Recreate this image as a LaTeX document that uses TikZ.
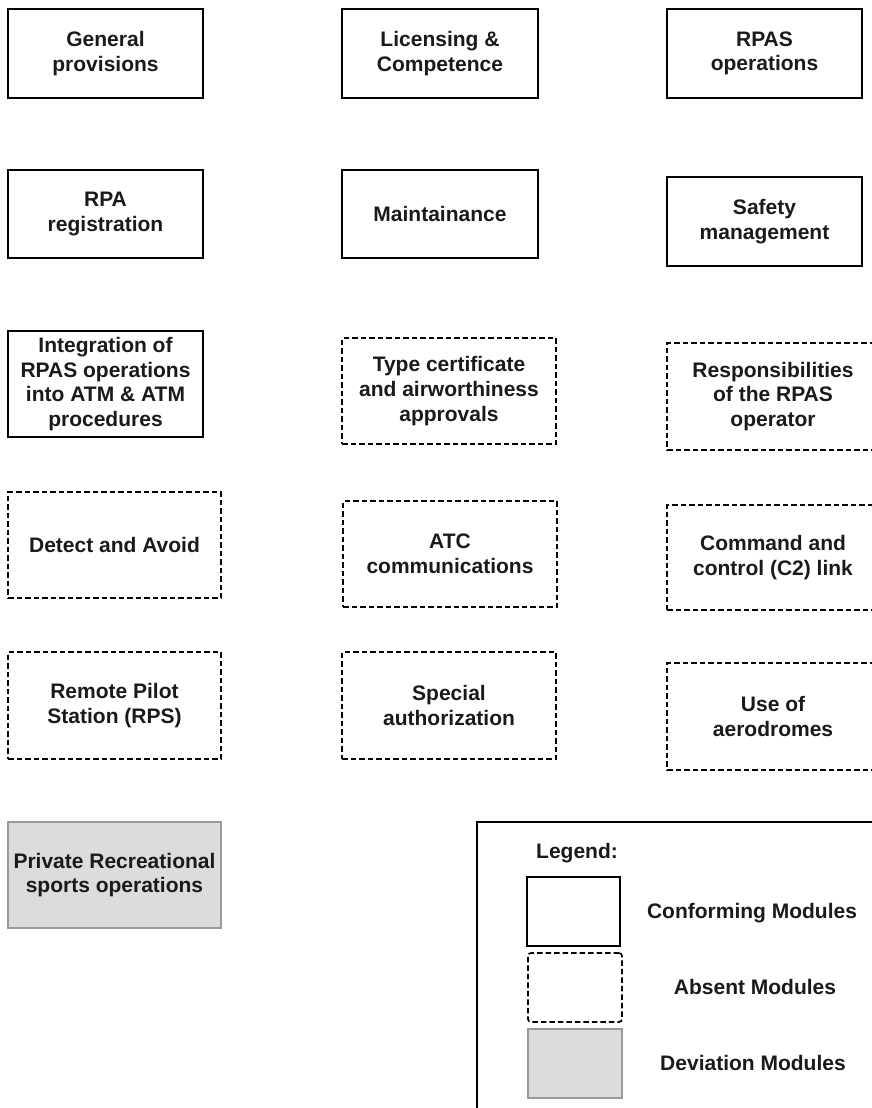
\documentclass[tikz,border=0pt]{standalone}
\usepackage{fontspec}
\setmainfont{Liberation Sans}
\definecolor{txt}{HTML}{1A1A1A}
\definecolor{devfill}{HTML}{DCDCDC}
\definecolor{devline}{HTML}{9A9A9A}
\tikzset{
  module/.style={draw=black, line width=1.7pt, align=center, inner sep=0pt,
    text=txt, font=\bfseries\fontsize{21}{24.6}\selectfont},
  conform/.style={module},
  absent/.style={module, dash pattern=on 5.5pt off 3pt},
  deviation/.style={module, draw=devline, fill=devfill},
  legtext/.style={text=txt, inner sep=0pt, font=\bfseries\fontsize{21}{24.6}\selectfont},
}
\begin{document}
\begin{tikzpicture}[x=1pt, y=-1pt]
\useasboundingbox (0,0) rectangle (872,1108);
\clip (0,0) rectangle (872,1108);

% first row
\node[conform, minimum width=195pt, minimum height=89pt] (gen) at (105.5,53.5) {General\\provisions};
\node[conform, minimum width=196pt, minimum height=89pt] (lic) at (440,53.5) {Licensing \&\\Competence};
\node[conform, minimum width=195pt, minimum height=89pt] (ops) at (764.5,53.5) {RPAS\\operations};

% second row
\node[conform, minimum width=195pt, minimum height=88pt] (reg) at (105.5,214) {RPA\\registration};
\node[conform, minimum width=196pt, minimum height=88pt] (mnt) at (440,214) {Maintainance};
\node[conform, minimum width=195pt, minimum height=89pt] (saf) at (764.5,221.5) {Safety\\management};

% third row
\node[conform, minimum width=195pt, minimum height=106pt] (atm) at (105.5,384) {Integration of\\RPAS operations\\into ATM \& ATM\\procedures};
\node[absent, minimum width=214pt, minimum height=106pt] (tc) at (449,391) {Type certificate\\and airworthiness\\approvals};
\node[absent, minimum width=212pt, minimum height=107pt] (resp) at (773,396.5) {Responsibilities\\of the RPAS\\operator};

% fourth row
\node[absent, minimum width=213pt, minimum height=106pt] (daa) at (114.5,545) {Detect and Avoid};
\node[absent, minimum width=214pt, minimum height=106pt] (atc) at (450,554) {ATC\\communications};
\node[absent, minimum width=212pt, minimum height=105pt] (c2) at (773,557.5) {Command and\\control (C2) link};

% fifth row
\node[absent, minimum width=213pt, minimum height=107pt] (rps) at (114.5,705.5) {Remote Pilot\\Station (RPS)};
\node[absent, minimum width=214pt, minimum height=107pt] (spa) at (449,705.5) {Special\\authorization};
\node[absent, minimum width=212pt, minimum height=107pt] (aer) at (773,716.5) {Use of\\aerodromes};

% deviation module
\node[deviation, minimum width=213pt, minimum height=106pt] (prv) at (114.5,875) {Private Recreational\\sports operations};

% legend
\node[draw=black, line width=1.7pt, inner sep=0pt, minimum width=428pt, minimum height=308pt] (legframe) at (691,976) {};
\node[legtext] (legtitle) at (577,853) {Legend:};
\node[conform, minimum width=93pt, minimum height=69pt] (legc) at (573.5,911.5) {};
\node[absent, rounded corners=3pt, minimum width=94pt, minimum height=69pt] (lega) at (575,987.5) {};
\node[deviation, minimum width=94pt, minimum height=69pt] (legd) at (575,1063.5) {};
\node[legtext] (legct) at (752,913) {Conforming Modules};
\node[legtext] (legat) at (755,987) {Absent Modules};
\node[legtext] (legdt) at (753,1063) {Deviation Modules};
\end{tikzpicture}
\end{document}
